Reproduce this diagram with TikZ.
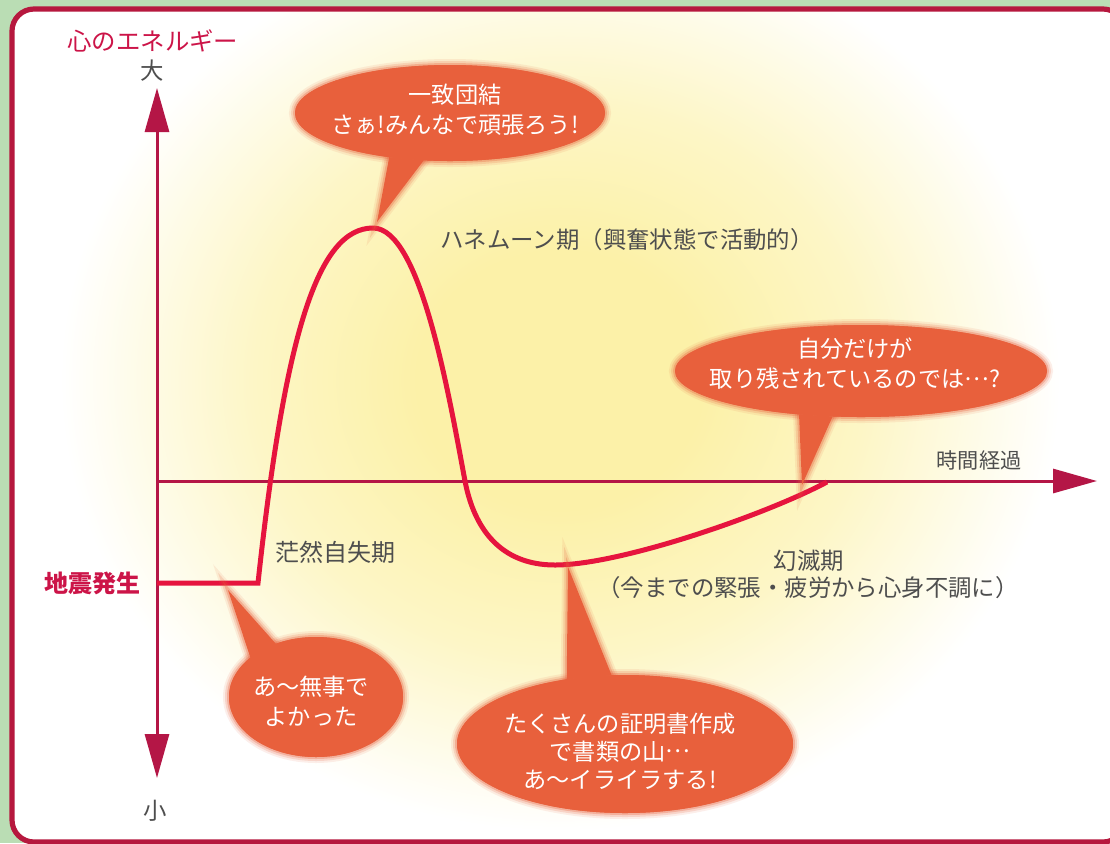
\documentclass[tikz,border=0pt]{standalone}
\usepackage{fontspec}
\setmainfont{Noto Sans CJK JP}
\usetikzlibrary{arrows.meta,shapes.geometric}
\definecolor{bggreen}{RGB}{186,221,180}
\definecolor{framec}{RGB}{182,24,62}
\definecolor{axisc}{RGB}{180,22,70}
\definecolor{curvec}{RGB}{230,20,62}
\definecolor{bub}{RGB}{232,96,60}
\definecolor{glowc}{RGB}{252,241,168}
\definecolor{glowm}{RGB}{253,246,198}
\definecolor{txt}{RGB}{78,78,78}
\definecolor{lab}{RGB}{204,20,72}
\pgfdeclareradialshading{glowshade}{\pgfpointorigin}{color(0bp)=(glowc); color(7bp)=(glowc); color(15bp)=(glowm); color(24.5bp)=(white); color(50bp)=(white)}
\newcommand\tenten{\raisebox{0.32em}{…}}
\begin{document}
\begin{tikzpicture}[x=0.5pt,y=-0.5pt,
  axisline/.style={draw=axisc, line width=1.5pt, >={Triangle[length=22pt,width=12pt]}},
  curveline/.style={draw=curvec, line width=2.5pt},
  halo/.style={preaction={draw=bub, line width=6pt, opacity=0.10},
               preaction={draw=bub, line width=4pt, opacity=0.18},
               preaction={draw=bub, line width=2pt, opacity=0.3}},
  bubble/.style={ellipse, fill=bub, inner sep=0pt, outer sep=0pt, halo},
  tailshape/.style={fill=bub, halo},
  btext/.style={text=white, align=center, inner sep=0pt, font=\fontsize{11.6pt}{15pt}\selectfont},
  gtext/.style={text=txt, align=center, inner sep=0pt, font=\fontsize{11.7pt}{13.5pt}\selectfont},
  ltext/.style={text=lab, inner sep=0pt, font=\fontsize{12.2pt}{14pt}\selectfont}]
\useasboundingbox (0,0) rectangle (1110,843);
\fill[bggreen] (0,0) rectangle (1110,843);
\begin{scope}
  \clip[rounded corners=11pt] (12,9) rectangle (1125,842);
  \fill[white] (0,0) rectangle (1110,843);
  \shade[shading=glowshade] (560,380) ellipse [x radius=510, y radius=460];
\end{scope}
\draw[draw=framec, line width=2.6pt, rounded corners=11pt] (12,9) rectangle (1125,842);

% axes
\coordinate (O) at (157,481);
\coordinate (Ytop) at (157,88);
\coordinate (Ybot) at (157,778);
\coordinate (Xend) at (1097,481);
\draw[axisline, <->] (Ybot) -- (Ytop);
\draw[axisline, ->] (O) -- (Xend);

% energy curve
\coordinate (c0) at (157,583);
\coordinate (c1) at (258,583);
\coordinate (peak) at (373,228);
\coordinate (c3) at (465,481);
\coordinate (low) at (555,565);
\coordinate (cend) at (827,482);
\draw[curveline] (c0) -- (c1) .. controls (285,333) and (318,228) .. (peak)
  .. controls (420,228) and (448,390) .. (c3)
  .. controls (474,528) and (500,565) .. (low)
  .. controls (620,565) and (765,515) .. (cend);

% bubbles
\node[bubble, minimum width=155pt, minimum height=48pt] (b1) at (450,113) {};
\node[bubble, minimum width=186pt, minimum height=46pt] (b2) at (861,371) {};
\node[bubble, minimum width=87pt, minimum height=60pt] (b3) at (316,697) {};
\node[bubble, minimum width=168pt, minimum height=69pt] (b4) at (625,744) {};
\coordinate (t1) at (377,222);
\coordinate (t2) at (802,485);
\coordinate (t3) at (228,590);
\coordinate (t4) at (568,567);
\fill[tailshape] (b1.216) -- (t1) -- (b1.241) -- cycle;
\fill[tailshape] (b2.215) -- (t2) -- (b2.238) -- cycle;
\fill[tailshape] (b3.149) -- (t3) -- (b3.127) -- cycle;
\fill[tailshape] (b4.132) -- (t4) -- (b4.101) -- cycle;
\fill[bub] (b1.center) ellipse [x radius=155, y radius=48];
\fill[bub] (b2.center) ellipse [x radius=186, y radius=46];
\fill[bub] (b3.center) ellipse [x radius=87, y radius=60];
\fill[bub] (b4.center) ellipse [x radius=168, y radius=69];

\node[btext] (b1t) at (455,110) {一致団結\\さぁ!みんなで頑張ろう!};
\node[btext] (b2t) at (855,364) {自分だけが\\取り残されているのでは\tenten?};
\node[btext] (b3t) at (311,701) {あ〜無事で\\よかった};
\node[btext, font=\fontsize{11.6pt}{14pt}\selectfont] (b4t) at (620,751) {たくさんの証明書作成\\で書類の山\tenten\\あ〜イライラする!};

% labels
\node[ltext] (yl) at (153,41) {心のエネルギー};
\node[gtext] (big) at (152,71) {大};
\node[gtext] (small) at (155,811) {小};
\node[ltext, font=\fontsize{12pt}{14pt}\selectfont\bfseries] (quake) at (93,583) {地震発生};
\node[gtext, font=\fontsize{10.6pt}{12pt}\selectfont] (xl) at (979,460) {時間経過};
\node[gtext] (honey) at (627,240) {ハネムーン期（興奮状態で活動的）};
\node[gtext, font=\fontsize{12pt}{14pt}\selectfont] (shock) at (335,552) {茫然自失期};
\node[gtext] (dis1) at (809,561) {幻滅期};
\node[gtext] (dis2) at (808,588) {（今までの緊張・疲労から心身不調に）};
\end{tikzpicture}
\end{document}
